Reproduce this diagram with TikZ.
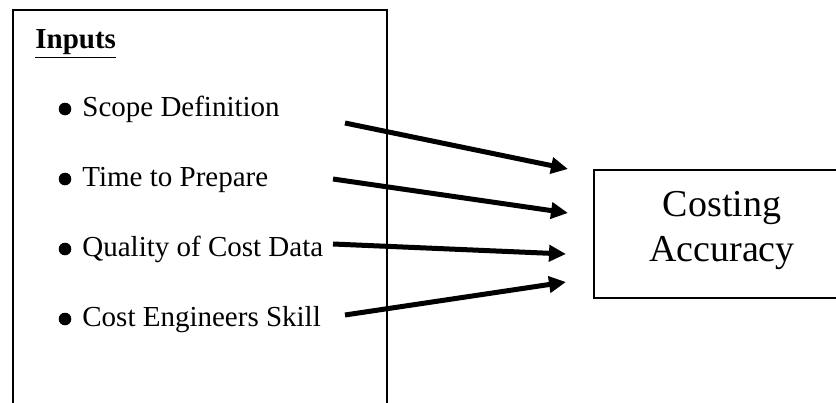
\documentclass[tikz,border=0pt]{standalone}
\usepackage{fontspec}
\setmainfont{Liberation Serif}
\usetikzlibrary{arrows.meta}

\tikzset{
  item/.style={anchor=base west, font=\fontsize{14.5}{17}\selectfont, inner sep=0pt},
  dot/.style={circle, fill=black, inner sep=0pt, minimum size=6.3pt},
  bigarrow/.style={line width=2.5pt, -{Triangle[length=8.5pt, width=8pt]}}
}

\begin{document}
\begin{tikzpicture}[x=0.5pt, y=-0.5pt]
        \useasboundingbox (0,0) rectangle (836,402);

        % inputs box, runs off the bottom
        \draw[line width=0.7pt] (13,420) -- (13,10) -- (387,10) -- (387,420);
        \node[item, font=\fontsize{14.5}{17}\selectfont\bfseries] (inputs) at (35,48) {\underline{Inputs}};

        \node[dot] (b1) at (65,109) {};
        \node[dot] (b2) at (65,179) {};
        \node[dot] (b3) at (65,249) {};
        \node[dot] (b4) at (65,319) {};

        \node[item] (scope) at (82,116) {Scope Definition};
        \node[item] (time) at (82,186) {Time to Prepare};
        \node[item] (quality) at (82,256) {Quality of Cost Data};
        \node[item] (skill) at (82,326) {Cost Engineers Skill};

        % output box
        \node[draw, line width=1pt, anchor=north west, minimum width=129pt, minimum height=64pt] (acc) at (593,169) {};
        \node[align=center, font=\fontsize{19}{22.5}\selectfont] (acctext) at (722,231) {Costing\\Accuracy};

        \coordinate (s1) at (345,123);
        \coordinate (s2) at (333,179);
        \coordinate (s3) at (333,244);
        \coordinate (s4) at (345,315);
        \coordinate (e1) at (568,169);
        \coordinate (e2) at (568,213);
        \coordinate (e3) at (566,254);
        \coordinate (e4) at (566,282);

        \draw[bigarrow] (s1) -- (e1);
        \draw[bigarrow] (s2) -- (e2);
        \draw[bigarrow] (s3) -- (e3);
        \draw[bigarrow] (s4) -- (e4);
    \end{tikzpicture}
\end{document}
